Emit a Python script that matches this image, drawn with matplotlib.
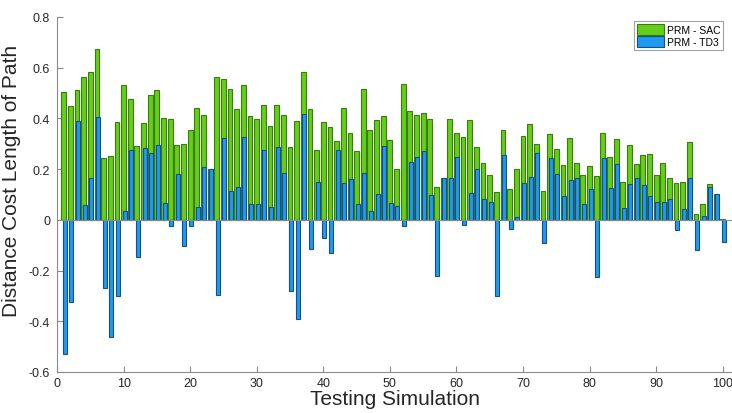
import numpy as np
import matplotlib
matplotlib.use("Agg")
import matplotlib.pyplot as plt

plt.rcParams['font.family'] = ['Liberation Sans', 'DejaVu Sans']

sims = list(range(1, 101))
sac = [0.504, 0.449, 0.512, 0.564, 0.584, 0.674, 0.245, 0.253, 0.386, 0.532,
       0.478, 0.292, 0.382, 0.491, 0.512, 0.401, 0.399, 0.295, 0.299, 0.354,
       0.441, 0.413, 0.201, 0.563, 0.555, 0.517, 0.436, 0.533, 0.409, 0.399,
       0.453, 0.372, 0.453, 0.413, 0.288, 0.389, 0.584, 0.436, 0.274, 0.384,
       0.366, 0.311, 0.441, 0.342, 0.271, 0.516, 0.354, 0.393, 0.409, 0.314,
       0.200, 0.537, 0.429, 0.413, 0.422, 0.397, 0.130, 0.167, 0.399, 0.343,
       0.326, 0.393, 0.286, 0.224, 0.178, 0.109, 0.353, 0.121, 0.199, 0.330,
       0.380, 0.300, 0.113, 0.338, 0.279, 0.216, 0.321, 0.225, 0.176, 0.213,
       0.172, 0.342, 0.249, 0.317, 0.149, 0.297, 0.220, 0.255, 0.259, 0.178,
       0.225, 0.164, 0.145, 0.150, 0.309, 0.022, 0.062, 0.142, 0.101, 0.003]
td3 = [-0.530, -0.322, 0.391, 0.058, 0.167, 0.407, -0.267, -0.463, -0.299, 0.034,
       0.276, -0.145, 0.282, 0.264, 0.295, 0.068, -0.024, 0.180, -0.103, -0.026,
       0.050, 0.208, 0.199, -0.297, 0.324, 0.113, 0.130, 0.326, 0.062, 0.064,
       0.275, 0.049, 0.288, 0.186, -0.280, -0.392, 0.416, -0.116, 0.149, -0.070,
       -0.129, 0.275, 0.146, 0.161, 0.064, 0.184, 0.036, 0.103, 0.291, 0.068,
       0.054, -0.026, 0.228, 0.247, 0.272, 0.097, -0.220, 0.164, 0.167, 0.249,
       -0.021, 0.107, 0.200, 0.084, 0.071, -0.299, 0.254, -0.036, 0.012, 0.146,
       0.170, 0.263, -0.093, 0.243, 0.180, 0.093, 0.157, 0.166, 0.063, 0.121,
       -0.226, 0.243, 0.126, 0.220, 0.046, 0.142, 0.167, 0.138, 0.095, 0.070,
       0.070, 0.082, -0.039, 0.042, 0.167, -0.120, 0.014, 0.130, 0.101, -0.088]
labels = ["PRM - SAC", "PRM - TD3"]

fig = plt.figure(figsize=(7.32, 4.14), dpi=100)
ax = fig.add_axes([57/732, 41/414, 675/732, 355/414])

x = np.array(sims, dtype=float)
ax.bar(x, sac, width=0.72, color="#64cf18", edgecolor="#3d7a12", linewidth=0.8,
       label=labels[0], zorder=2)
ax.bar(x + 0.15, td3, width=0.6, color="#1e9bf0", edgecolor="#174f86", linewidth=0.8,
       label=labels[1], zorder=3)

ax.set_xlim(0, 101.4)
ax.set_ylim(-0.6, 0.8)
ax.set_xticks(range(0, 101, 10))
ax.set_yticks(np.round(np.arange(-0.6, 0.81, 0.2), 1))
ax.set_yticklabels(["-0.6", "-0.4", "-0.2", "0", "0.2", "0.4", "0.6", "0.8"])
ax.axhline(0, color="#8a8a8a", linewidth=0.8, zorder=4)

for s in ["top", "right"]:
    ax.spines[s].set_visible(False)
for s in ["left", "bottom"]:
    ax.spines[s].set_color("#8a8a8a")
    ax.spines[s].set_linewidth(0.8)
ax.tick_params(direction="in", length=4, color="#8a8a8a", labelcolor="#262626",
               labelsize=9, width=0.8)
ax.tick_params(axis="y", pad=5)

ax.set_xlabel("Testing Simulation", fontsize=15, color="#262626", labelpad=0)
ax.set_ylabel("Distance Cost Length of Path", fontsize=15, color="#262626")
ax.yaxis.set_label_coords(-0.053, 0.54)

leg = fig.legend(loc="upper right", bbox_to_anchor=(723/732, 1 - 22/414), fontsize=7.5,
                 frameon=True, fancybox=False, handlelength=2.6, handleheight=1.3,
                 borderpad=0.25, labelspacing=0.1, handletextpad=0.3, borderaxespad=0.0)
leg.get_frame().set_edgecolor("#8a8a8a")
leg.get_frame().set_linewidth(0.8)

fig.savefig("out.png", dpi=100)
